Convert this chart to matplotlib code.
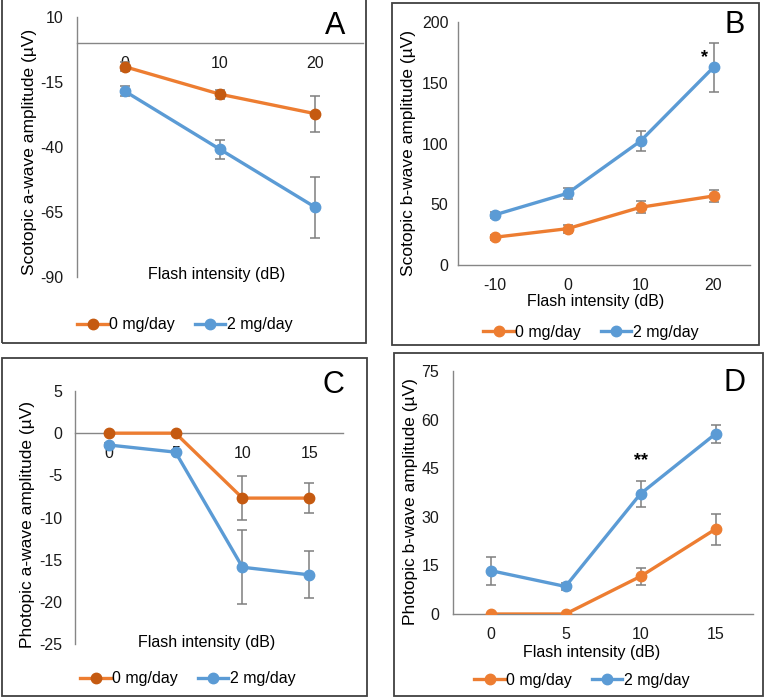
import matplotlib.pyplot as plt
from matplotlib.patches import Rectangle
from matplotlib.lines import Line2D

plt.rcParams['font.family'] = ['Liberation Sans', 'DejaVu Sans']
plt.rcParams['axes.unicode_minus'] = False

W, H = 765, 699

# Panel A: scotopic a-wave
a_x = ['0', '10', '20']
a_ctrl = [-9.1, -19.7, -27.2]
a_ctrl_err = [1.8, 1.8, 6.9]
a_drug = [-18.5, -40.9, -63.2]
a_drug_err = [2.0, 3.7, 11.7]

# Panel B: scotopic b-wave
b_x = ['-10', '0', '10', '20']
b_ctrl = [22.8, 29.9, 47.5, 56.8]
b_ctrl_err = [2.2, 3.4, 4.8, 5.0]
b_drug = [41.2, 59.0, 102.0, 162.7]
b_drug_err = [2.5, 4.4, 8.0, 20.0]

# Panel C: photopic a-wave
c_x = ['0', '5', '10', '15']
c_ctrl = [0, 0, -7.7, -7.7]
c_ctrl_err = [0, 0, 2.6, 1.8]
c_drug = [-1.4, -2.25, -15.9, -16.8]
c_drug_err = [0.2, 0.2, 4.4, 2.8]

# Panel D: photopic b-wave
d_x = ['0', '5', '10', '15']
d_ctrl = [0, 0, 11.6, 26.2]
d_ctrl_err = [0, 0, 2.6, 4.8]
d_drug = [13.4, 8.5, 37.1, 55.6]
d_drug_err = [4.3, 1.0, 4.1, 2.7]

ORANGE = '#ED7D31'
DARK_ORANGE = '#C55A11'
BLUE = '#5B9BD5'
GRAY = '#868686'
FS = 11.5     # horizontal text
FS_Y = 12.5   # rotated axis titles

fig = plt.figure(figsize=(W / 100, H / 100), dpi=100)


def px_axes(x0, y0, x1, y1):
    return fig.add_axes([x0 / W, 1 - y1 / H, (x1 - x0) / W, (y1 - y0) / H])


def box(x0, y0, x1, y1):
    fig.add_artist(Rectangle((x0 / W, 1 - y1 / H), (x1 - x0) / W, (y1 - y0) / H,
                             transform=fig.transFigure, fill=False,
                             ec='#404040', lw=1.3))


def panel(rect, labels, ctrl, ctrl_err, drug, drug_err, ylim, yticks,
          ylabel, ylab_pos, letter, letter_pos, xlab_pos, leg_pos,
          ctrl_marker, zero_axis, ypad):
    ax = px_axes(*rect)
    xs = list(range(len(labels)))
    for vals, errs, col, mcol in [(ctrl, ctrl_err, ORANGE, ctrl_marker),
                                  (drug, drug_err, BLUE, BLUE)]:
        ax.errorbar(xs, vals, yerr=errs, fmt='none', ecolor='#7F7F7F',
                    elinewidth=1.1, capsize=3.4, capthick=1.1, zorder=3)
        ax.plot(xs, vals, color=col, lw=2.4, marker='o', ms=7.5,
                mfc=mcol, mec=mcol, zorder=4)
    ax.set_xlim(-0.5, len(labels) - 0.5)
    ax.set_ylim(*ylim)
    ax.set_yticks(yticks)
    ax.set_xticks(xs)
    ax.set_xticklabels(labels)
    for s in ['top', 'right']:
        ax.spines[s].set_visible(False)
    ax.spines['left'].set_color(GRAY)
    ax.spines['bottom'].set_color(GRAY)
    ax.spines['left'].set_linewidth(1)
    ax.spines['bottom'].set_linewidth(1)
    if zero_axis:
        ax.spines['bottom'].set_position(('data', 0))
    ax.tick_params(axis='both', length=0, labelsize=FS, colors='#1a1a1a')
    ax.tick_params(axis='x', pad=9.5)
    ax.tick_params(axis='y', pad=ypad)
    ax.patch.set_alpha(0)
    fig.text(ylab_pos[0] / W, 1 - ylab_pos[1] / H, ylabel, rotation=90,
             ha='center', va='center', fontsize=FS_Y)
    fig.text(xlab_pos[0] / W, 1 - xlab_pos[1] / H, 'Flash intensity (dB)',
             ha='center', va='center', fontsize=FS)
    fig.text(letter_pos[0] / W, 1 - letter_pos[1] / H, letter,
             ha='center', va='center', fontsize=22)
    handles = [Line2D([], [], color=ORANGE, lw=2.4, marker='o', ms=7.5,
                      mfc=ctrl_marker, mec=ctrl_marker),
               Line2D([], [], color=BLUE, lw=2.4, marker='o', ms=7.5)]
    fig.legend(handles, ['0 mg/day', '2 mg/day'], loc='center',
               bbox_to_anchor=(leg_pos[0] / W, 1 - leg_pos[1] / H),
               ncol=2, frameon=False, fontsize=FS, handlelength=1.9,
               handletextpad=0.1, columnspacing=1.25)
    return ax


box(2, -2, 366, 343)
box(392, 3, 759, 345)
box(2, 358, 367, 696)
box(394, 353, 763, 696)

panel((77, 17, 363, 277), a_x, a_ctrl, a_ctrl_err, a_drug, a_drug_err,
      (-90, 10), [10, -15, -40, -65, -90], 'Scotopic a-wave amplitude (µV)',
      (30, 152), 'A', (335, 26), (217, 275), (185, 325), DARK_ORANGE, True, 10)

ax_b = panel((458, 22, 750, 265), b_x, b_ctrl, b_ctrl_err, b_drug, b_drug_err,
             (0, 200), [0, 50, 100, 150, 200], 'Scotopic b-wave amplitude (µV)',
             (409, 153), 'B', (735, 25), (596, 302), (591, 332), ORANGE, False, 7)
ax_b.text(3 - 0.12, 171, '*', ha='center', va='center', fontsize=13,
          fontweight='bold')

panel((75, 391, 343, 644), c_x, c_ctrl, c_ctrl_err, c_drug, c_drug_err,
      (-25, 5), [5, 0, -5, -10, -15, -20, -25], 'Photopic a-wave amplitude (µV)',
      (28, 524), 'C', (333, 385), (207, 642), (188, 679), DARK_ORANGE, True, 9)

ax_d = panel((453, 371, 753, 614), d_x, d_ctrl, d_ctrl_err, d_drug, d_drug_err,
             (0, 75), [0, 15, 30, 45, 60, 75], 'Photopic b-wave amplitude (µV)',
             (410, 502), 'D', (735, 383), (592, 653), (582, 680), ORANGE, False, 10)
ax_d.text(2, 47.3, '**', ha='center', va='center', fontsize=13,
          fontweight='bold')

fig.savefig('out.png', dpi=100)
